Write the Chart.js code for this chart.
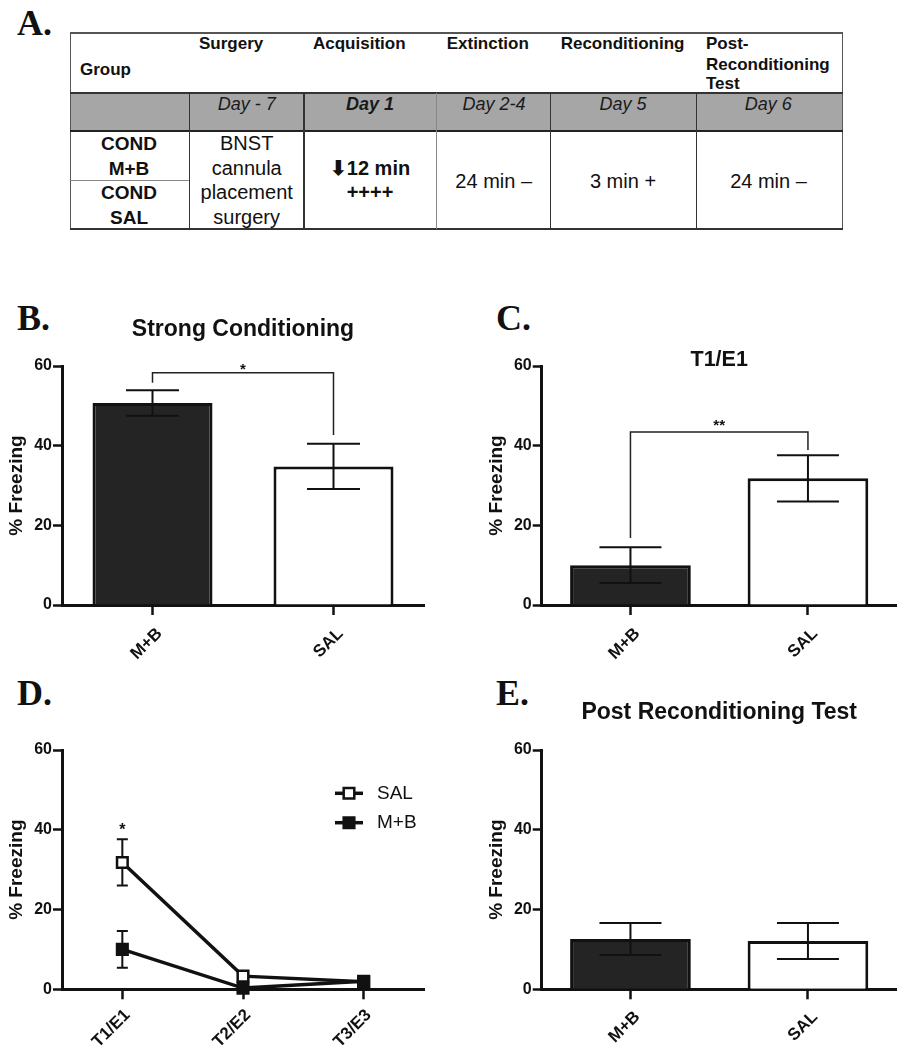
<!DOCTYPE html>
<html><head><meta charset="utf-8">
<script src="https://cdn.jsdelivr.net/npm/chart.js@4.4.1/dist/chart.umd.min.js"></script>
<style>
html,body{margin:0;padding:0;background:#fff;width:909px;height:1050px;overflow:hidden;}
#page{position:relative;width:909px;height:1050px;font-family:"Liberation Sans",Arial,sans-serif;color:#111;}
.lbl{position:absolute;font-family:"Liberation Serif","Times New Roman",serif;font-weight:bold;font-size:36px;line-height:36px;color:#111;}
.cv{position:absolute;}
.t{position:absolute;white-space:nowrap;line-height:1;}
.ln{position:absolute;}
</style></head>
<body><div id="page">
<div class="lbl" style="left:17px;top:5px">A.</div>
<div class="lbl" style="left:17px;top:300px">B.</div>
<div class="lbl" style="left:496px;top:300px">C.</div>
<div class="lbl" style="left:17px;top:675px">D.</div>
<div class="lbl" style="left:496px;top:675px">E.</div>
<div id="table"></div>
<canvas id="cB" class="cv" width="460" height="380" style="left:0;top:290px"></canvas>
<canvas id="cC" class="cv" width="449" height="380" style="left:460px;top:290px"></canvas>
<canvas id="cD" class="cv" width="460" height="370" style="left:0;top:680px"></canvas>
<canvas id="cE" class="cv" width="449" height="370" style="left:460px;top:680px"></canvas>
</div>
<script>
// ---------------- data ----------------
const groups = ['M+B', 'SAL'];
const strongMean = [50.7, 34.8];
const strongSem = [3.2, 5.7];
const strongBracket = [58.3, 55.8, 42.7];   // bracket level, left leg end, right leg end
const strongStar = 59.8;
const t1Mean = [10.0, 31.8];
const t1Sem = [4.5, 5.8];
const t1Bracket = [43.4, 16.8, 38.9];
const t1Star = 45.8;
const trials = ['T1/E1', 'T2/E2', 'T3/E3'];
const salTrials = [31.8, 3.3, 1.9];
const salTrialsSem = [5.8, 0.8, 0.5];
const mbTrials = [10.0, 0.3, 2.0];
const mbTrialsSem = [4.6, 0.3, 0.5];
const trialStar = 40.8;
const postMean = [12.6, 12.1];
const postSem = [4.0, 4.5];
const yTicks = [0, 20, 40, 60];

const tableHeaders = ['Group', 'Surgery', 'Acquisition', 'Extinction', 'Reconditioning', ['Post-', 'Reconditioning', 'Test']];
const tableDays = ['', 'Day - 7', 'Day 1', 'Day 2-4', 'Day 5', 'Day 6'];
const tableGroups = ['COND', 'M+B', 'COND', 'SAL'];
const tableSurgery = ['BNST', 'cannula', 'placement', 'surgery'];
const tableAcq = ['\u2B0712 min', '++++'];
const tableOther = ['24 min \u2013', '3 min +', '24 min \u2013'];

// ---------------- table (HTML) ----------------
const tb = document.getElementById('table');
function txt(s, x, y, o) {
  const d = document.createElement('div');
  d.className = 't';
  d.textContent = s;
  d.style.left = x + 'px'; d.style.top = y + 'px';
  d.style.fontSize = (o.size || 17) + 'px';
  d.style.fontWeight = o.weight || 'normal';
  d.style.fontStyle = o.style || 'normal';
  d.style.color = o.color || '#111';
  d.style.transform = o.left ? 'translate(0,-50%)' : 'translate(-50%,-50%)';
  tb.appendChild(d);
}
function line(x, y, w, h, c) {
  const d = document.createElement('div');
  d.className = 'ln';
  d.style.left = x + 'px'; d.style.top = y + 'px';
  d.style.width = w + 'px'; d.style.height = h + 'px';
  d.style.background = c;
  tb.appendChild(d);
}
const colX = [70, 189.3, 304, 436.7, 550.7, 696.7, 842.3];
const rowY = [32.7, 93.3, 130.7, 229.3];
line(colX[0], rowY[1], colX[6] - colX[0], rowY[2] - rowY[1], '#a6a6a6');
line(colX[0] - 0.5, rowY[0] - 0.5, colX[6] - colX[0] + 1.5, 1.5, '#555');
line(colX[0] - 0.5, rowY[0] - 0.5, 1.5, rowY[3] - rowY[0] + 1, '#555');
line(colX[6] - 0.5, rowY[0] - 0.5, 1.5, rowY[3] - rowY[0] + 1, '#555');
line(colX[0] - 0.5, rowY[1] - 1, colX[6] - colX[0] + 1.5, 2, '#333');
line(colX[0] - 0.5, rowY[2] - 1, colX[6] - colX[0] + 1.5, 2, '#222');
line(colX[0] - 0.5, rowY[3] - 1, colX[6] - colX[0] + 1.5, 2, '#333');
for (let i = 1; i < 6; i++) {
  line(colX[i] - 0.75, rowY[1], 1.5, rowY[3] - rowY[1], i === 3 ? '#888' : '#333');
}
line(colX[0], 180, colX[1] - colX[0], 1.2, '#888');
const hdrY = 43.3;
txt(tableHeaders[0], 80, 69.3, {left: true, weight: 'bold', size: 17});
const hdrX = [0, 199, 313, 446.7, 560.7, 706];
for (let i = 1; i < 5; i++) txt(tableHeaders[i], hdrX[i], hdrY, {left: true, weight: 'bold', size: 17});
tableHeaders[5].forEach((s, k) => txt(s, hdrX[5], [43.3, 64.3, 82.7][k], {left: true, weight: 'bold', size: 17}));
const dayX = [0, 246.7, 370, 494, 623, 768.3];
for (let i = 1; i < 6; i++) txt(tableDays[i], dayX[i], 103.5, {style: 'italic', size: 18, weight: i === 2 ? 'bold' : 'normal', color: '#1a1a1a'});
const bodyLines = [143.3, 168.3, 192.3, 217.3];
tableGroups.forEach((s, k) => txt(s, 129, bodyLines[k], {weight: 'bold', size: 19}));
tableSurgery.forEach((s, k) => txt(s, 246.7, bodyLines[k], {size: 20}));
txt(tableAcq[0], 370, 168.3, {weight: 'bold', size: 20});
txt(tableAcq[1], 370, 191.7, {weight: 'bold', size: 20});
[493.7, 623, 768.5].forEach((x, k) => txt(tableOther[k], x, 180.7, {size: 20}));

// ---------------- chart helpers ----------------
const F = "'Liberation Sans', Arial, sans-serif";
const INK = '#111';

function drawErr(chart, opts) {
  const ctx = chart.ctx, y = chart.scales.y;
  (opts.sets || []).forEach(set => {
    const meta = chart.getDatasetMeta(set.dataset);
    const data = chart.data.datasets[set.dataset].data;
    meta.data.forEach((el, i) => {
      const m = data[i], e = set.sem[i];
      const x = el.x;
      const yt = y.getPixelForValue(m + e), yb = y.getPixelForValue(Math.max(0, m - e));
      ctx.save();
      ctx.strokeStyle = INK; ctx.lineWidth = opts.width || 2;
      ctx.beginPath();
      ctx.moveTo(x, yt); ctx.lineTo(x, yb);
      ctx.moveTo(x - opts.cap, yt); ctx.lineTo(x + opts.cap, yt);
      ctx.moveTo(x - opts.cap, yb); ctx.lineTo(x + opts.cap, yb);
      ctx.stroke();
      ctx.restore();
    });
  });
}
const errorBars = {
  id: 'errorBars',
  beforeDatasetsDraw(chart, args, opts) { if (opts.layer === 'under') drawErr(chart, opts); },
  afterDatasetsDraw(chart, args, opts) { if (opts.layer !== 'under') drawErr(chart, opts); }
};
const sigMarks = {
  id: 'sigMarks',
  afterDatasetsDraw(chart, args, opts) {
    const ctx = chart.ctx, x = chart.scales.x, y = chart.scales.y;
    ctx.save();
    (opts.brackets || []).forEach(b => {
      const x0 = x.getPixelForValue(b.from), x1 = x.getPixelForValue(b.to);
      const yl = y.getPixelForValue(b.levels[0]);
      ctx.strokeStyle = '#222'; ctx.lineWidth = 1.5;
      ctx.beginPath();
      ctx.moveTo(x0, y.getPixelForValue(b.levels[1]));
      ctx.lineTo(x0, yl); ctx.lineTo(x1, yl);
      ctx.lineTo(x1, y.getPixelForValue(b.levels[2]));
      ctx.stroke();
    });
    (opts.labels || []).forEach(l => {
      ctx.font = (l.weight || 'bold') + ' ' + (l.size || 15) + 'px ' + F;
      ctx.fillStyle = INK; ctx.textAlign = 'center'; ctx.textBaseline = 'alphabetic';
      const m = ctx.measureText(l.text);
      const yc = y.getPixelForValue(l.value);
      ctx.fillText(l.text, x.getPixelForValue(l.at), yc + (m.actualBoundingBoxAscent - m.actualBoundingBoxDescent) / 2);
    });
    ctx.restore();
  }
};
const lineLegend = {
  id: 'lineLegend',
  afterDraw(chart, args, opts) {
    if (!opts.show) return;
    const ctx = chart.ctx;
    ctx.save();
    chart.data.datasets.forEach((ds, i) => {
      const yy = opts.y + i * opts.dy;
      ctx.strokeStyle = ds.borderColor; ctx.lineWidth = ds.borderWidth;
      ctx.beginPath(); ctx.moveTo(opts.x, yy); ctx.lineTo(opts.x + opts.len, yy); ctx.stroke();
      const cx = opts.x + opts.len / 2, s = ds.pointRadius * Math.SQRT1_2;
      ctx.fillStyle = ds.pointBackgroundColor; ctx.strokeStyle = ds.pointBorderColor; ctx.lineWidth = ds.pointBorderWidth;
      ctx.beginPath(); ctx.rect(cx - s, yy - s, 2 * s, 2 * s); ctx.fill(); ctx.stroke();
      ctx.fillStyle = INK; ctx.font = 'normal 19px ' + F; ctx.textAlign = 'left'; ctx.textBaseline = 'middle';
      ctx.fillText(ds.label, opts.x + opts.len + opts.gap, yy);
    });
    ctx.restore();
  }
};
Chart.register(errorBars, sigMarks, lineLegend);

function axisY(width) {
  return {
    min: 0, max: 60,
    afterBuildTicks: s => { s.ticks = yTicks.map(v => ({value: v})); },
    ticks: {color: INK, font: {family: F, size: 16, weight: 'bold'}, padding: 1},
    grid: {drawOnChartArea: false, drawTicks: true, tickLength: 9, tickWidth: 2.5, tickColor: INK},
    border: {display: true, width: 3, color: INK},
    title: {display: true, text: '% Freezing', color: INK, font: {family: F, size: 19, weight: 'bold'}, padding: {top: 5, bottom: 0}},
    afterFit: s => { s.width = width; }
  };
}
function axisX(height, pad, shift) {
  return {
    type: 'category', offset: true,
    ticks: {color: INK, font: {family: F, size: 17, weight: 'bold'}, minRotation: 45, maxRotation: 45,
            padding: pad, labelOffset: shift, autoSkip: false},
    grid: {drawOnChartArea: false, drawTicks: true, tickLength: 10, tickWidth: 2.5, tickColor: INK, offset: false},
    border: {display: true, width: 3, color: INK},
    afterFit: s => { s.height = height; }
  };
}
function titleOpt(text, size, top, bottom) {
  return {display: true, text: text, fullSize: false, color: INK,
    font: {family: F, size: size, weight: 'bold', lineHeight: 1.2}, padding: {top: top, bottom: bottom}};
}
function barChart(id, means, sems, opt) {
  return new Chart(document.getElementById(id), {
    type: 'bar',
    data: {labels: groups, datasets: [{
      data: means, backgroundColor: ['#242424', '#ffffff'], borderColor: INK, borderWidth: 3,
      categoryPercentage: 1, barPercentage: opt.barPct
    }]},
    options: {
      responsive: false, animation: false, devicePixelRatio: 1,
      layout: {padding: opt.pad},
      scales: {x: axisX(opt.xh, opt.lpad, 7), y: axisY(opt.yw)},
      plugins: {
        legend: {display: false}, tooltip: {enabled: false},
        title: opt.title,
        errorBars: {sets: [{dataset: 0, sem: sems}], cap: opt.cap, width: 2},
        sigMarks: opt.sig || {}
      }
    }
  });
}

barChart('cB', strongMean, strongSem, {
  barPct: 0.663, pad: {left: 0, right: 36, top: 0, bottom: 0}, xh: 65, yw: 62, cap: 26.5, lpad: 8.8,
  title: titleOpt('Strong Conditioning', 23, 26.2, 22.2),
  sig: {brackets: [{from: 0, to: 1, levels: strongBracket}], labels: [{text: '*', at: 0.5, value: strongStar, size: 15}]}
});
barChart('cC', t1Mean, t1Sem, {
  barPct: 0.68, pad: {left: 20, right: 12.3, top: 0, bottom: 0}, xh: 65, yw: 61.7, cap: 31, lpad: 8.8,
  title: titleOpt('T1/E1', 21.5, 57.1, -6.9),
  sig: {brackets: [{from: 0, to: 1, levels: t1Bracket}], labels: [{text: '**', at: 0.5, value: t1Star, size: 15}]}
});
barChart('cE', postMean, postSem, {
  barPct: 0.68, pad: {left: 20, right: 12.3, top: 0, bottom: 0}, xh: 60.7, yw: 61.7, cap: 31, lpad: 7.8,
  title: titleOpt('Post Reconditioning Test', 23, 18.7, 23.7)
});

new Chart(document.getElementById('cD'), {
  type: 'line',
  data: {labels: trials, datasets: [
    {label: 'SAL', data: salTrials, borderColor: INK, borderWidth: 3.5, pointStyle: 'rect', pointRadius: 7.5,
     pointBackgroundColor: '#ffffff', pointBorderColor: INK, pointBorderWidth: 2.5, tension: 0, clip: false, order: 1},
    {label: 'M+B', data: mbTrials, borderColor: INK, borderWidth: 3.5, pointStyle: 'rect', pointRadius: 7.5,
     pointBackgroundColor: INK, pointBorderColor: INK, pointBorderWidth: 2.5, tension: 0, clip: false, order: 0}
  ]},
  options: {
    responsive: false, animation: false, devicePixelRatio: 1,
    layout: {padding: {left: 0, right: 36, top: 70, bottom: 0}},
    scales: {x: axisX(60.7, 6, 5), y: axisY(62)},
    plugins: {
      legend: {display: false}, tooltip: {enabled: false}, title: {display: false},
      errorBars: {layer: 'under', sets: [{dataset: 0, sem: salTrialsSem}, {dataset: 1, sem: mbTrialsSem}], cap: 5.5, width: 2},
      sigMarks: {labels: [{text: '*', at: 0, value: trialStar, size: 16}]},
      lineLegend: {show: true, x: 335, y: 113.3, dy: 29.4, len: 28, gap: 14}
    }
  }
});
</script>
</body></html>
